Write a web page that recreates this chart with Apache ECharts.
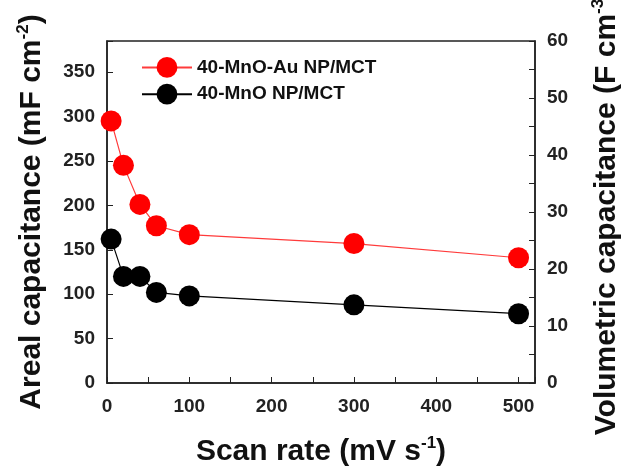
<!DOCTYPE html>
<html>
<head>
<meta charset="utf-8">
<script src="https://cdn.jsdelivr.net/npm/echarts@6/dist/echarts.min.js"></script>
<style>
html,body{margin:0;padding:0;background:#fff;}
#chart{width:622px;height:474px;}
</style>
</head>
<body>
<div id="chart"></div>
<script>
const scanRate = [5, 20, 40, 60, 100, 300, 500];
const mnoAu = [295, 245, 201, 177, 167, 157, 141];
const mno = [162, 120, 120, 102, 98, 88, 78];
const seriesNames = ['40-MnO-Au NP/MCT', '40-MnO NP/MCT'];
const xTitle = 'Scan rate (mV s{sup|-1})';
const yLeftTitle = 'Areal capacitance (mF cm{sup|-2})';
const yRightTitle = 'Volumetric capacitance (F cm{sup|-3})';

const FONT = 'Liberation Sans, Arial, sans-serif';
const axisColor = '#222';
const titleStyle = {
  fontFamily: FONT, fontSize: 30, fontWeight: 'bold', color: '#111',
  lineHeight: 34,
  rich: { sup: { fontFamily: FONT, fontSize: 17, fontWeight: 'bold', color: '#111', verticalAlign: 'top', lineHeight: 34, padding: [0, 0, 12, 0] } }
};
const labelStyle = { fontFamily: FONT, fontSize: 19, fontWeight: 'bold', color: '#222' };

const chart = echarts.init(document.getElementById('chart'));
chart.setOption({
  animation: false,
  backgroundColor: '#fff',
  grid: { left: 107, right: 87, top: 41, bottom: 91, show: true, borderColor: axisColor, borderWidth: 1.5, backgroundColor: 'transparent', containLabel: false, outerBoundsMode: 'none' },
  legend: {
    data: seriesNames,
    orient: 'vertical',
    left: 136, top: 52,
    itemWidth: 50, itemHeight: 26, itemGap: 6,
    textStyle: { fontFamily: FONT, fontSize: 19, fontWeight: 'bold', color: '#111' }
  },
  xAxis: {
    type: 'value', min: 0, max: 520, interval: 50,
    name: xTitle, nameLocation: 'middle', nameGap: 52, nameTextStyle: titleStyle,
    axisLine: { lineStyle: { color: axisColor, width: 1.5 } },
    axisTick: { inside: true, length: 6, lineStyle: { color: axisColor } },
    axisLabel: Object.assign({ margin: 14, formatter: v => (v % 100 === 0 ? String(v) : '') }, labelStyle),
    splitLine: { show: false }
  },
  yAxis: [
    {
      type: 'value', min: 0, max: 385, interval: 50, position: 'left',
      name: yLeftTitle, nameLocation: 'middle', nameGap: 58, nameRotate: 90, nameTextStyle: titleStyle,
      axisLine: { show: true, lineStyle: { color: axisColor, width: 1.5 } },
      axisTick: { show: true, inside: true, length: 6, lineStyle: { color: axisColor } },
      axisLabel: Object.assign({ margin: 12, formatter: v => (v % 50 === 0 ? String(v) : '') }, labelStyle),
      splitLine: { show: false }
    },
    {
      type: 'value', min: 0, max: 60, interval: 10, position: 'right',
      name: yRightTitle, nameLocation: 'middle', nameGap: 55, nameRotate: 90, nameTextStyle: titleStyle,
      axisLine: { show: true, lineStyle: { color: axisColor, width: 1.5 } },
      axisTick: { show: true, inside: true, length: 6, lineStyle: { color: axisColor } },
      minorTick: { show: true, splitNumber: 2, length: 6, lineStyle: { color: axisColor } },
      axisLabel: Object.assign({ margin: 12 }, labelStyle),
      splitLine: { show: false }
    }
  ],
  series: [
    {
      name: seriesNames[0], type: 'line', yAxisIndex: 0,
      data: scanRate.map((x, i) => [x, mnoAu[i]]),
      symbol: 'circle', symbolSize: 21,
      lineStyle: { color: '#ff3b3b', width: 1.2 },
      itemStyle: { color: '#ff0000' },
      z: 3
    },
    {
      name: seriesNames[1], type: 'line', yAxisIndex: 0,
      data: scanRate.map((x, i) => [x, mno[i]]),
      symbol: 'circle', symbolSize: 21,
      lineStyle: { color: '#000', width: 1.2 },
      itemStyle: { color: '#000' },
      z: 2
    }
  ]
});
</script>
</body>
</html>
